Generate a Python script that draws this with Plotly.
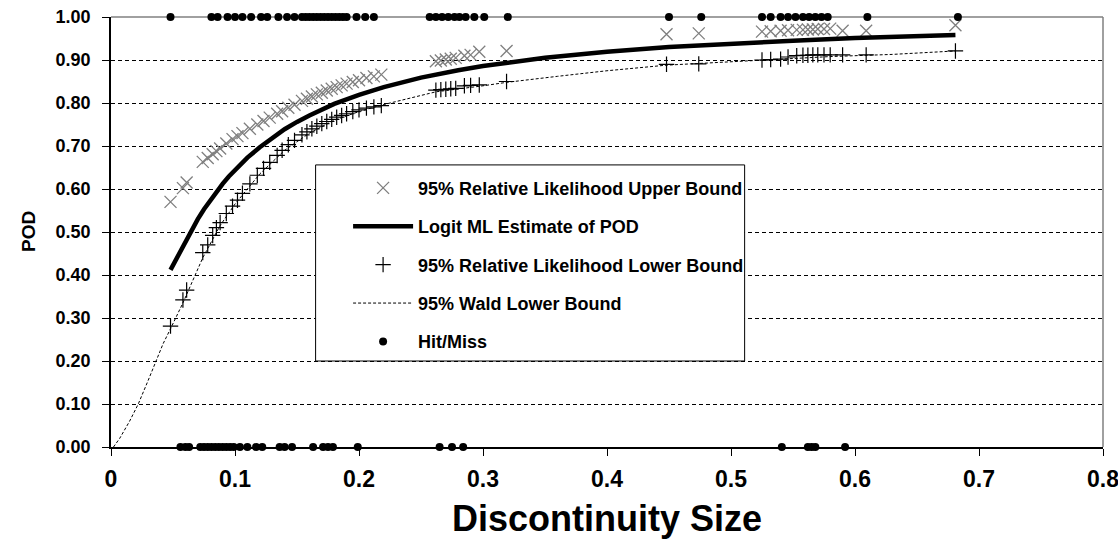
import plotly.graph_objects as go

# ---------------- data ----------------
hit_x = [0.048, 0.081, 0.086, 0.094, 0.100, 0.106, 0.113, 0.121, 0.126, 0.135,
         0.142, 0.148, 0.154, 0.157, 0.160, 0.163, 0.166, 0.169, 0.172, 0.175,
         0.178, 0.181, 0.184, 0.187, 0.190, 0.198, 0.205, 0.212, 0.257, 0.262,
         0.267, 0.272, 0.277, 0.281, 0.286, 0.293, 0.301, 0.320, 0.450, 0.476,
         0.525, 0.532, 0.540, 0.546, 0.552, 0.558, 0.563, 0.568, 0.573, 0.578,
         0.610, 0.683]
hit_y = [1.0] * len(hit_x)

miss_x = [0.056, 0.060, 0.063, 0.072, 0.075, 0.078, 0.081, 0.084, 0.087, 0.090,
          0.093, 0.096, 0.099, 0.104, 0.110, 0.117, 0.122, 0.136, 0.140, 0.146,
          0.163, 0.171, 0.175, 0.179, 0.199, 0.265, 0.275, 0.284, 0.541, 0.562,
          0.565, 0.568, 0.592]
miss_y = [0.0] * len(miss_x)

bound_x = [0.048, 0.058, 0.061, 0.074, 0.078, 0.082, 0.085, 0.088, 0.093, 0.098,
           0.102, 0.106, 0.112, 0.118, 0.123, 0.128, 0.134, 0.138, 0.143, 0.148,
           0.154, 0.158, 0.162, 0.166, 0.170, 0.174, 0.178, 0.182, 0.186, 0.190,
           0.195, 0.200, 0.206, 0.212, 0.218, 0.262, 0.266, 0.270, 0.274, 0.278,
           0.285, 0.290, 0.297, 0.319, 0.448, 0.474, 0.525, 0.532, 0.540, 0.546,
           0.553, 0.558, 0.562, 0.566, 0.570, 0.575, 0.580, 0.590, 0.609, 0.681]
upper_bound = [0.570, 0.602, 0.615, 0.663, 0.672, 0.681, 0.688, 0.694, 0.706, 0.716,
               0.723, 0.730, 0.740, 0.750, 0.758, 0.766, 0.775, 0.781, 0.789, 0.796,
               0.805, 0.810, 0.815, 0.820, 0.824, 0.829, 0.833, 0.837, 0.841, 0.845,
               0.849, 0.853, 0.858, 0.862, 0.866, 0.897, 0.899, 0.901, 0.903, 0.905,
               0.910, 0.912, 0.919, 0.921, 0.960, 0.962, 0.966, 0.967, 0.968, 0.969,
               0.970, 0.970, 0.971, 0.971, 0.972, 0.972, 0.973, 0.968, 0.968, 0.981]
lower_bound = [0.281, 0.342, 0.365, 0.452, 0.470, 0.492, 0.510, 0.522, 0.543, 0.560,
               0.574, 0.590, 0.612, 0.632, 0.648, 0.662, 0.678, 0.690, 0.703, 0.713,
               0.726, 0.733, 0.740, 0.746, 0.752, 0.757, 0.762, 0.767, 0.771, 0.775,
               0.780, 0.784, 0.788, 0.791, 0.794, 0.830, 0.831, 0.832, 0.833, 0.834,
               0.840, 0.841, 0.842, 0.850, 0.890, 0.891, 0.900, 0.901, 0.902, 0.907,
               0.910, 0.911, 0.911, 0.912, 0.912, 0.912, 0.912, 0.912, 0.912, 0.921]

ml_x = [0.048, 0.052, 0.056, 0.060, 0.065, 0.070, 0.075, 0.080, 0.085, 0.090,
        0.095, 0.100, 0.110, 0.120, 0.130, 0.140, 0.150, 0.160, 0.180, 0.200,
        0.220, 0.250, 0.280, 0.300, 0.350, 0.400, 0.450, 0.500, 0.550, 0.600,
        0.650, 0.681]
ml_pod = [0.412, 0.433, 0.457, 0.480, 0.506, 0.530, 0.553, 0.574, 0.594, 0.612,
          0.629, 0.644, 0.673, 0.697, 0.719, 0.739, 0.756, 0.771, 0.798, 0.819,
          0.837, 0.859, 0.876, 0.886, 0.905, 0.919, 0.930, 0.938, 0.945, 0.951,
          0.956, 0.958]

wald_x = [0.002, 0.007, 0.015, 0.022, 0.030, 0.035, 0.042, 0.048, 0.058, 0.074,
          0.088, 0.100, 0.120, 0.140, 0.160, 0.180, 0.200, 0.218, 0.262, 0.300,
          0.319, 0.360, 0.400, 0.448, 0.474, 0.525, 0.580, 0.630, 0.681]
wald_lower = [0.000, 0.020, 0.060, 0.100, 0.155, 0.190, 0.240, 0.275, 0.335, 0.440,
              0.515, 0.565, 0.635, 0.690, 0.730, 0.760, 0.780, 0.795, 0.826, 0.840,
              0.848, 0.862, 0.875, 0.888, 0.892, 0.900, 0.908, 0.913, 0.921]

x_ticks = [0, 0.1, 0.2, 0.3, 0.4, 0.5, 0.6, 0.7, 0.8]
x_tick_text = ["0", "0.1", "0.2", "0.3", "0.4", "0.5", "0.6", "0.7", "0.8"]
y_ticks = [0.0, 0.1, 0.2, 0.3, 0.4, 0.5, 0.6, 0.7, 0.8, 0.9, 1.0]
y_tick_text = ["0.00", "0.10", "0.20", "0.30", "0.40", "0.50", "0.60", "0.70",
               "0.80", "0.90", "1.00"]

FONT = "Liberation Sans, Arial, sans-serif"

fig = go.Figure()

fig.add_trace(go.Scatter(
    x=bound_x, y=upper_bound, mode="markers",
    name="<b>95% Relative Likelihood Upper Bound</b>", legendgroup="a",
    marker=dict(symbol="x-thin-open", size=12, color="#7f7f7f",
                line=dict(color="#7f7f7f", width=1.3)),
    cliponaxis=False))

fig.add_trace(go.Scatter(
    x=ml_x, y=ml_pod, mode="lines",
    name="<b>Logit ML Estimate of POD</b>", legendgroup="b",
    line=dict(color="black", width=4.5)))

fig.add_trace(go.Scatter(
    x=bound_x, y=lower_bound, mode="markers",
    name="<b>95% Relative Likelihood Lower Bound</b>", legendgroup="c",
    marker=dict(symbol="cross-thin-open", size=11, color="black",
                line=dict(color="black", width=1.2)),
    cliponaxis=False))

fig.add_trace(go.Scatter(
    x=wald_x, y=wald_lower, mode="lines",
    name="<b>95% Wald Lower Bound</b>", legendgroup="d",
    line=dict(color="black", width=1, dash="3px,2px")))

fig.add_trace(go.Scatter(
    x=hit_x + miss_x, y=hit_y + miss_y, mode="markers",
    name="<b>Hit/Miss</b>", legendgroup="e",
    marker=dict(symbol="circle", size=8, color="black"),
    cliponaxis=False))

# legend box
fig.add_shape(type="rect", xref="x", yref="y", x0=0.165, x1=0.511, y0=0.2, y1=0.656,
              line=dict(color="black", width=1), fillcolor="white", layer="above")
# plot frame (top / right)
fig.add_shape(type="line", xref="paper", yref="paper", x0=0, x1=1, y0=1, y1=1,
              line=dict(color="#808080", width=1.5), layer="below")
fig.add_shape(type="line", xref="paper", yref="paper", x0=1, x1=1, y0=0, y1=1,
              line=dict(color="#808080", width=1.5), layer="below")

fig.add_annotation(text="<b>POD</b>", xref="paper", yref="paper", x=0, y=0.5,
                   xshift=-83, textangle=-90, showarrow=False,
                   xanchor="center", yanchor="middle",
                   font=dict(family=FONT, size=19, color="black"))
fig.add_annotation(text="<b>Discontinuity Size</b>", xref="paper", yref="paper",
                   x=0.5, y=0, yshift=-71, showarrow=False,
                   xanchor="center", yanchor="middle",
                   font=dict(family=FONT, size=36, color="black"))

fig.update_layout(
    width=1118, height=541,
    margin=dict(l=111, r=15, t=17, b=94),
    paper_bgcolor="white", plot_bgcolor="white",
    font=dict(family=FONT, color="black"),
    showlegend=True,
    legend=dict(x=0.239, y=0.645, xanchor="left", yanchor="top",
                bgcolor="rgba(0,0,0,0)", borderwidth=0,
                font=dict(family=FONT, size=18, color="black"),
                tracegroupgap=12, itemwidth=60),
    xaxis=dict(range=[0, 0.8], tickvals=x_ticks,
               ticktext=["<b>%s</b>" % t for t in x_tick_text],
               showgrid=False, zeroline=False, automargin=False,
               showline=True, linecolor="black", linewidth=1.5,
               ticks="outside", ticklen=7, tickcolor="black", tickwidth=1,
               ticklabelstandoff=4, ticklabeloverflow="allow",
               tickfont=dict(family=FONT, size=23, color="black")),
    yaxis=dict(range=[0, 1], tickvals=y_ticks,
               ticktext=["<b>%s</b>" % t for t in y_tick_text],
               showgrid=True, gridcolor="black", gridwidth=1, griddash="4px,3px",
               zeroline=False, automargin=False,
               showline=True, linecolor="black", linewidth=1.5,
               ticks="outside", ticklen=7, tickcolor="black", tickwidth=1,
               ticklabelstandoff=8, ticklabeloverflow="allow",
               tickfont=dict(family=FONT, size=18, color="black")),
)

fig.write_html("out.html",
               config={"displayModeBar": False},
               post_script="document.body.style.margin='0';"
                           "document.body.style.overflow='hidden';")
